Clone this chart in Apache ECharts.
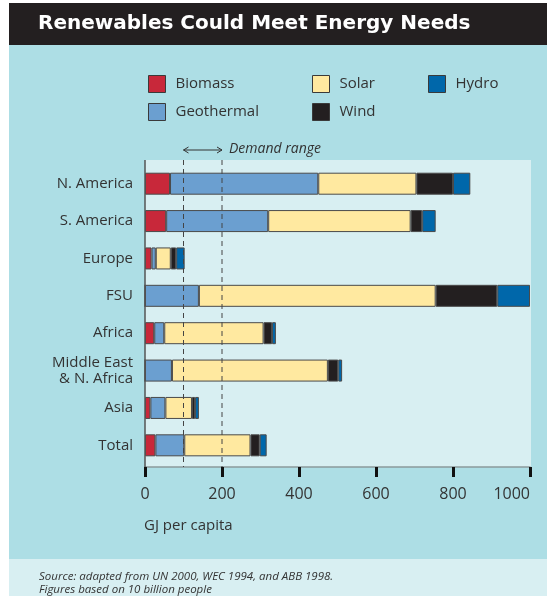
<!DOCTYPE html>
<html><head><meta charset="utf-8">
<script src="https://cdn.jsdelivr.net/npm/echarts@6/dist/echarts.min.js"></script>
<style>html,body{margin:0;padding:0;background:#fff;}#c{width:547px;height:596px;}</style>
</head><body><div id="c"></div>
<script>
const categories = ['N. America','S. America','Europe','FSU','Africa','Middle East\n& N. Africa','Asia','Total'];
const biomass    = [65, 55, 17, 0, 24, 0, 14, 27];
const geothermal = [385, 265, 11, 140, 26, 70, 39, 75];
const solar      = [255, 370, 39, 615, 258, 405, 69, 172];
const wind       = [95, 30, 14, 160, 22, 27, 8, 24];
const hydro      = [45, 35, 22, 85, 10, 10, 10, 18];
const xTicks = [0, 200, 400, 600, 800, 1000];
const demandRange = [100, 200];

const FONT = 'Open Sans';
const chart = echarts.init(document.getElementById('c'));
const mk = (name, data, color) => ({
  name, type: 'bar', stack: 'total', data, barWidth: 22,
  itemStyle: { color, borderColor: '#4a4a4a', borderWidth: 1 }
});
const legendBase = {
  orient: 'vertical', top: 70, itemWidth: 17, itemHeight: 17, itemGap: 10, icon: 'rect',
  itemStyle: { borderColor: '#3a3a3a', borderWidth: 1 },
  textStyle: { fontFamily: FONT, fontSize: 15, color: '#333', lineHeight: 17, padding: [0,0,0,5] },
  selectedMode: false
};
chart.setOption({
  animation: false,
  grid: { left: 145, right: 17, top: 165, height: 299 },
  legend: [
    Object.assign({}, legendBase, { left: 143, data: ['Biomass', 'Geothermal'] }),
    Object.assign({}, legendBase, { left: 307, data: ['Solar', 'Wind'] }),
    Object.assign({}, legendBase, { left: 423, data: ['Hydro'] })
  ],
  xAxis: {
    type: 'value', min: xTicks[0], max: xTicks[xTicks.length-1], interval: xTicks[1]-xTicks[0],
    offset: 3,
    axisLine: { show: true, lineStyle: { color: '#8a9a9c', width: 1.5 } },
    axisTick: { show: true, length: 10, lineStyle: { color: '#111', width: 3 } },
    splitLine: { show: false },
    axisLabel: { fontFamily: FONT, fontSize: 16, color: '#333', margin: 19, alignMaxLabel: 'right',
      formatter: v => String(v) }
  },
  yAxis: {
    type: 'category', inverse: true, data: categories,
    axisLine: { show: false },
    axisTick: { show: false },
    axisLabel: { fontFamily: FONT, fontSize: 15, color: '#333', margin: 12, lineHeight: 16 }
  },
  series: [
    mk('Biomass', biomass, '#C8283A'),
    mk('Geothermal', geothermal, '#6B9FD0'),
    mk('Solar', solar, '#FFE9A0'),
    mk('Wind', wind, '#231F20'),
    mk('Hydro', hydro, '#0067AA')
  ]
});

const px = v => chart.convertToPixel({ xAxisIndex: 0 }, v);
const x0 = px(0), xa = px(demandRange[0]), xb = px(demandRange[1]);
const graphics = [
  { type: 'rect', z: -10, shape: { x: 9, y: 3, width: 538, height: 42 }, style: { fill: '#231F20' } },
  { type: 'rect', z: -10, shape: { x: 9, y: 45, width: 538, height: 514 }, style: { fill: '#ADDEE5' } },
  { type: 'rect', z: -10, shape: { x: 9, y: 559, width: 538, height: 37 }, style: { fill: '#D8EFF2' } },
  { type: 'rect', z: -9, shape: { x: x0, y: 160, width: px(1000) - x0 + 1, height: 307 }, style: { fill: '#D8EFF2' } },
  { type: 'line', z: 50, shape: { x1: x0, y1: 160, x2: x0, y2: 467 }, style: { stroke: '#555', lineWidth: 1.5 } },
  { type: 'line', z: 60, shape: { x1: xa, y1: 160, x2: xa, y2: 467 }, style: { stroke: '#444', lineWidth: 1, lineDash: [5, 4] } },
  { type: 'line', z: 60, shape: { x1: xb, y1: 160, x2: xb, y2: 467 }, style: { stroke: '#444', lineWidth: 1, lineDash: [5, 4] } },
  { type: 'line', z: 60, shape: { x1: xa, y1: 150, x2: xb, y2: 150 }, style: { stroke: '#333', lineWidth: 1 } },
  { type: 'polyline', z: 60, shape: { points: [[xa + 5, 147], [xa, 150], [xa + 5, 153]] }, style: { stroke: '#333', fill: null, lineWidth: 1 } },
  { type: 'polyline', z: 60, shape: { points: [[xb - 5, 147], [xb, 150], [xb - 5, 153]] }, style: { stroke: '#333', fill: null, lineWidth: 1 } },
  { type: 'text', z: 60, style: { x: xb + 7, y: 149, text: 'Demand range', fontFamily: FONT, fontStyle: 'italic', fontSize: 14, fill: '#333', verticalAlign: 'middle' } },
  { type: 'text', z: 60, style: { x: 38, y: 24, text: 'Renewables Could Meet Energy Needs', fontFamily: 'DejaVu Sans', fontWeight: 'bold', fontSize: 20, fill: '#fff', verticalAlign: 'middle' } },
  { type: 'text', z: 60, style: { x: 144, y: 526, text: 'GJ per capita', fontFamily: FONT, fontSize: 15, fill: '#333', verticalAlign: 'middle' } },
  { type: 'text', z: 60, style: { x: 39, y: 577, text: 'Source: adapted from UN 2000, WEC 1994, and ABB 1998.', fontFamily: FONT, fontStyle: 'italic', fontSize: 11.5, fill: '#333', verticalAlign: 'middle' } },
  { type: 'text', z: 60, style: { x: 39, y: 590, text: 'Figures based on 10 billion people', fontFamily: FONT, fontStyle: 'italic', fontSize: 11.5, fill: '#333', verticalAlign: 'middle' } }
];
chart.setOption({ graphic: graphics });
</script>
</body></html>
